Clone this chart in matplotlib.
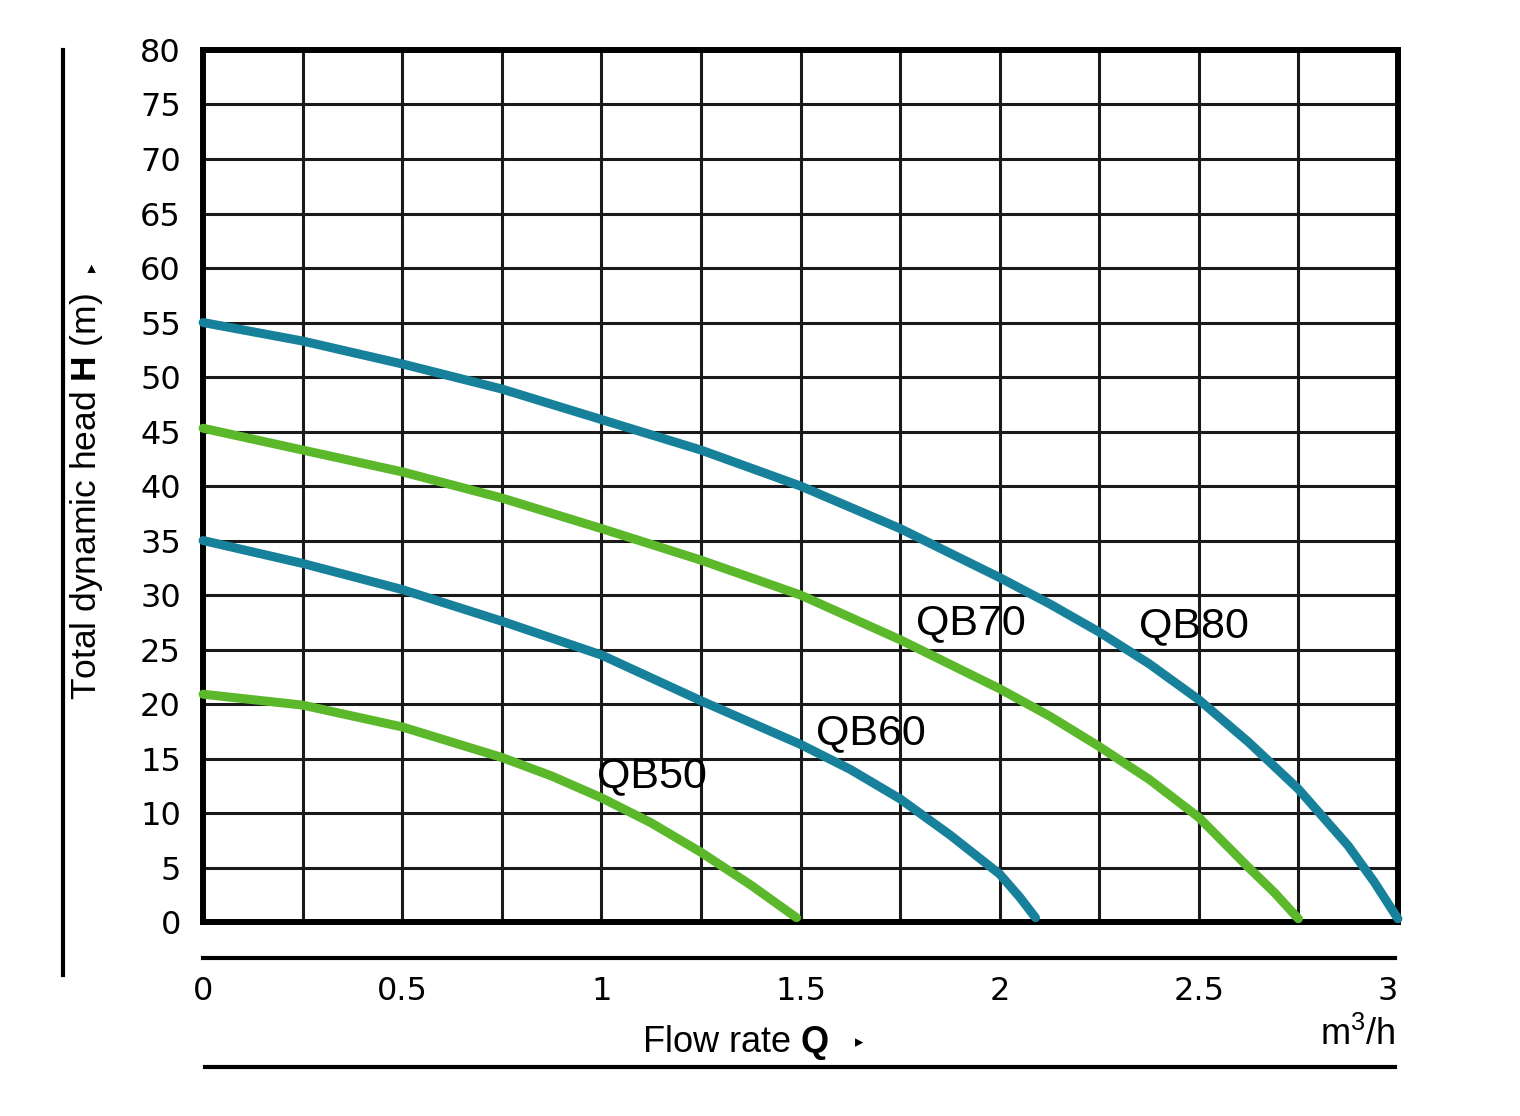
import matplotlib
matplotlib.use("Agg")
import matplotlib.pyplot as plt
from matplotlib.lines import Line2D
import numpy as np

plt.rcParams['font.family'] = ['Liberation Sans', 'DejaVu Sans']
plt.rcParams['mathtext.fontset'] = 'custom'
plt.rcParams['mathtext.rm'] = 'Liberation Sans'
plt.rcParams['mathtext.bf'] = 'Liberation Sans:bold'

# flow rate Q (m3/h) and head H (m)
q_qb80 = [0, 0.25, 0.5, 0.75, 1.0, 1.25, 1.5, 1.75, 2.0, 2.125, 2.25, 2.375, 2.5,
          2.625, 2.75, 2.875, 2.94, 3.0]
h_qb80 = [55.0, 53.3, 51.2, 48.9, 46.1, 43.3, 40.0, 36.1, 31.6, 29.2, 26.6, 23.7, 20.4,
          16.5, 12.2, 7.0, 3.7, 0.3]

q_qb70 = [0, 0.25, 0.5, 0.75, 1.0, 1.25, 1.5, 1.75, 2.0, 2.125, 2.25, 2.375, 2.5,
          2.625, 2.69, 2.75]
h_qb70 = [45.3, 43.3, 41.3, 38.9, 36.1, 33.2, 30.0, 25.9, 21.4, 18.9, 16.1, 13.1, 9.6,
          5.0, 2.7, 0.3]

q_qb60 = [0, 0.25, 0.5, 0.75, 1.0, 1.25, 1.375, 1.5, 1.625, 1.75, 1.875, 2.0, 2.05, 2.09]
h_qb60 = [35.0, 32.9, 30.5, 27.6, 24.5, 20.3, 18.3, 16.3, 14.0, 11.3, 8.0, 4.4, 2.3, 0.4]

q_qb50 = [0, 0.25, 0.5, 0.75, 0.875, 1.0, 1.125, 1.25, 1.375, 1.49]
h_qb50 = [20.9, 19.9, 17.9, 15.1, 13.4, 11.4, 9.1, 6.4, 3.4, 0.4]

names = ["QB50", "QB60", "QB70", "QB80"]
label_pos = [(0.99, 13.4), (1.54, 17.3), (1.79, 27.4), (2.35, 27.1)]

x_major = [0, 0.5, 1, 1.5, 2, 2.5, 3]
x_labels = ["0", "0.5", "1", "1.5", "2", "2.5", "3"]
y_ticks = list(range(0, 81, 5))

teal = "#17819c"
green = "#5cb82b"

fig = plt.figure(figsize=(15.2, 11.16), dpi=100)
ax = fig.add_axes([0.1336, 0.1738, 0.9197 - 0.1336, 0.9552 - 0.1738])

curves = [(q_qb50, h_qb50, green), (q_qb60, h_qb60, teal),
          (q_qb70, h_qb70, green), (q_qb80, h_qb80, teal)]
for q, h, c in curves:
    ax.plot(q, h, color=c, lw=6.5, solid_capstyle='round',
            solid_joinstyle='round', clip_on=False, zorder=3)

for name, (x, y) in zip(names, label_pos):
    ax.text(x, y, name, fontsize=31, ha='left', va='center', zorder=4)

ax.set_xlim(0, 3)
ax.set_ylim(0, 80)
ax.set_xticks(x_major)
ax.set_xticklabels(x_labels)
ax.set_xticks(np.arange(0, 3.01, 0.25), minor=True)
ax.set_yticks(y_ticks)
ax.grid(True, which='both', color='#1a1a1a', lw=2.2)
ax.set_axisbelow(True)
ax.tick_params(axis='both', which='both', length=0)
ax.tick_params(axis='x', pad=39, labelsize=23)
ax.tick_params(axis='y', pad=16, labelsize=23)
for t in ax.get_xticklabels() + ax.get_yticklabels():
    t.set_family('DejaVu Sans')
ax.get_xticklabels()[-1].set_ha('right')
for s in ax.spines.values():
    s.set_linewidth(4.3)
    s.set_color('black')

# decorative lines around the axis labels
fig.add_artist(Line2D([0.1336, 0.9178], [0.1416, 0.1416], color='black', lw=3))
fig.add_artist(Line2D([0.135, 0.9178], [0.0439, 0.0439], color='black', lw=3))
fig.add_artist(Line2D([0.0414, 0.0414], [0.1263, 0.9552], color='black', lw=3))

fig.text(0.0566, 0.555, r"Total dynamic head $\mathbf{H}$ (m)", rotation=90,
         fontsize=25.5, ha='center', va='center')
fig.text(0.0605, 0.760, "\u25b8", rotation=90, fontsize=12,
         ha='center', va='center', family='DejaVu Sans')
fig.text(0.484, 0.0573, r"Flow rate $\mathbf{Q}$", fontsize=26,
         ha='center', va='baseline')
fig.text(0.565, 0.066, "\u25b8", fontsize=12, ha='center', va='center',
         family='DejaVu Sans')
fig.text(0.918, 0.0636, r"m$^3$/h", fontsize=26, ha='right', va='baseline')

fig.savefig("out.png", dpi=100)
